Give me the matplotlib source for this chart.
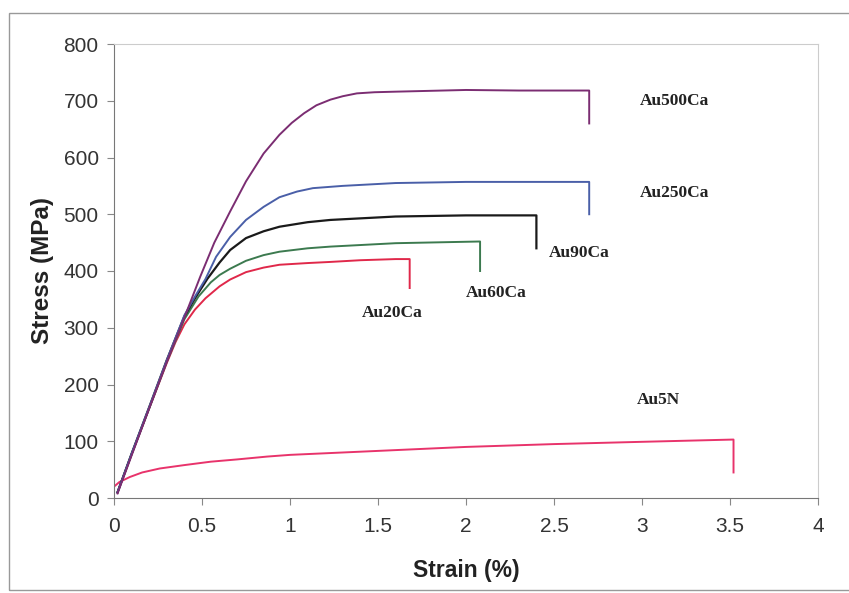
import matplotlib
matplotlib.use("Agg")
import matplotlib.pyplot as plt
from matplotlib.patches import Rectangle

# ---- data (strain %, stress MPa) ----
au500_x = [0.02, 0.1, 0.2, 0.3, 0.4, 0.49, 0.57, 0.66, 0.75, 0.85, 0.94, 1.01, 1.08, 1.15, 1.23, 1.3, 1.38, 1.48, 1.6, 2.0, 2.3, 2.7, 2.7]
au500_y = [8, 75, 158, 240, 318, 390, 450, 505, 558, 607, 640, 661, 678, 692, 702, 708, 713, 715, 716, 719, 718, 718, 660]

au250_x = [0.02, 0.1, 0.2, 0.3, 0.4, 0.46, 0.52, 0.58, 0.66, 0.75, 0.85, 0.94, 1.04, 1.13, 1.3, 1.6, 2.0, 2.7, 2.7]
au250_y = [10, 78, 160, 243, 322, 355, 386, 425, 460, 490, 513, 530, 540, 546, 550, 555, 557, 557, 500]

au90_x = [0.02, 0.1, 0.2, 0.3, 0.4, 0.46, 0.53, 0.6, 0.66, 0.75, 0.85, 0.94, 1.1, 1.23, 1.6, 2.0, 2.4, 2.4]
au90_y = [10, 78, 160, 243, 320, 352, 386, 415, 437, 458, 470, 478, 486, 490, 496, 498, 498, 440]

au60_x = [0.02, 0.1, 0.2, 0.3, 0.4, 0.48, 0.55, 0.6, 0.66, 0.75, 0.85, 0.94, 1.1, 1.23, 1.6, 2.08, 2.08]
au60_y = [10, 77, 158, 240, 315, 355, 380, 393, 404, 418, 428, 434, 440, 443, 449, 452, 400]

au20_x = [0.02, 0.1, 0.2, 0.3, 0.35, 0.4, 0.46, 0.52, 0.6, 0.66, 0.75, 0.85, 0.94, 1.1, 1.23, 1.4, 1.6, 1.68, 1.68]
au20_y = [10, 77, 158, 238, 275, 306, 332, 352, 373, 385, 398, 406, 411, 414, 416, 419, 421, 421, 370]

au5n_x = [0.0, 0.03, 0.09, 0.16, 0.26, 0.4, 0.55, 0.7, 0.87, 1.0, 1.5, 2.0, 2.5, 3.0, 3.52, 3.52]
au5n_y = [20, 28, 37, 45, 52, 58, 64, 68, 73, 76, 83, 90, 95, 99, 103, 45]

series = [
    ("Au5N", au5n_x, au5n_y, "#e8336b", (2.97, 173)),
    ("Au20Ca", au20_x, au20_y, "#e0284a", (1.41, 326)),
    ("Au60Ca", au60_x, au60_y, "#3c7a4f", (2.0, 361)),
    ("Au90Ca", au90_x, au90_y, "#1a1a1a", (2.47, 432)),
    ("Au250Ca", au250_x, au250_y, "#4a5fa8", (2.99, 537)),
    ("Au500Ca", au500_x, au500_y, "#7b2d72", (2.99, 700)),
]

x_ticks = [0, 0.5, 1, 1.5, 2, 2.5, 3, 3.5, 4]
x_tick_labels = ["0", "0.5", "1", "1.5", "2", "2.5", "3", "3.5", "4"]
y_ticks = [0, 100, 200, 300, 400, 500, 600, 700, 800]

fig = plt.figure(figsize=(8.49, 5.93), dpi=100)
ax = fig.add_axes([114/849, 1-498/593, (818-114)/849, (498-44)/593])

for name, xs, ys, col, (lx, ly) in series:
    ax.plot(xs, ys, color=col, lw=1.4 if name != "Au90Ca" else 1.6)
    ax.text(lx, ly, name, fontfamily="Liberation Serif", fontweight="bold",
            fontsize=12.5, color="#222222", ha="left", va="center")

ax.set_xlim(0, 4)
ax.set_ylim(0, 800)
ax.set_xticks(x_ticks)
ax.set_xticklabels(x_tick_labels)
ax.set_yticks(y_ticks)
ax.tick_params(labelsize=15, length=5, color="#888888", direction="out")
ax.tick_params(axis="x", pad=9)
ax.tick_params(axis="y", pad=6)
for lab in ax.get_xticklabels() + ax.get_yticklabels():
    lab.set_fontfamily("Liberation Sans")
    lab.set_color("#333333")
ax.set_xlabel("Strain (%)", fontfamily="Liberation Sans", fontweight="bold", fontsize=16.5, labelpad=16, color="#222222")
ax.set_ylabel("Stress (MPa)", fontfamily="Liberation Sans", fontweight="bold", fontsize=17.5, labelpad=7, color="#222222")
for s in ["left", "bottom"]:
    ax.spines[s].set_color("#777777")
for s in ["top", "right"]:
    ax.spines[s].set_color("#cccccc")

# outer frame
fig.patches.append(Rectangle((9/849, 3/593), 1.5, 1 - 16/593, transform=fig.transFigure,
                             fill=False, edgecolor="#999999", lw=1))

fig.savefig("out.png", dpi=100)
